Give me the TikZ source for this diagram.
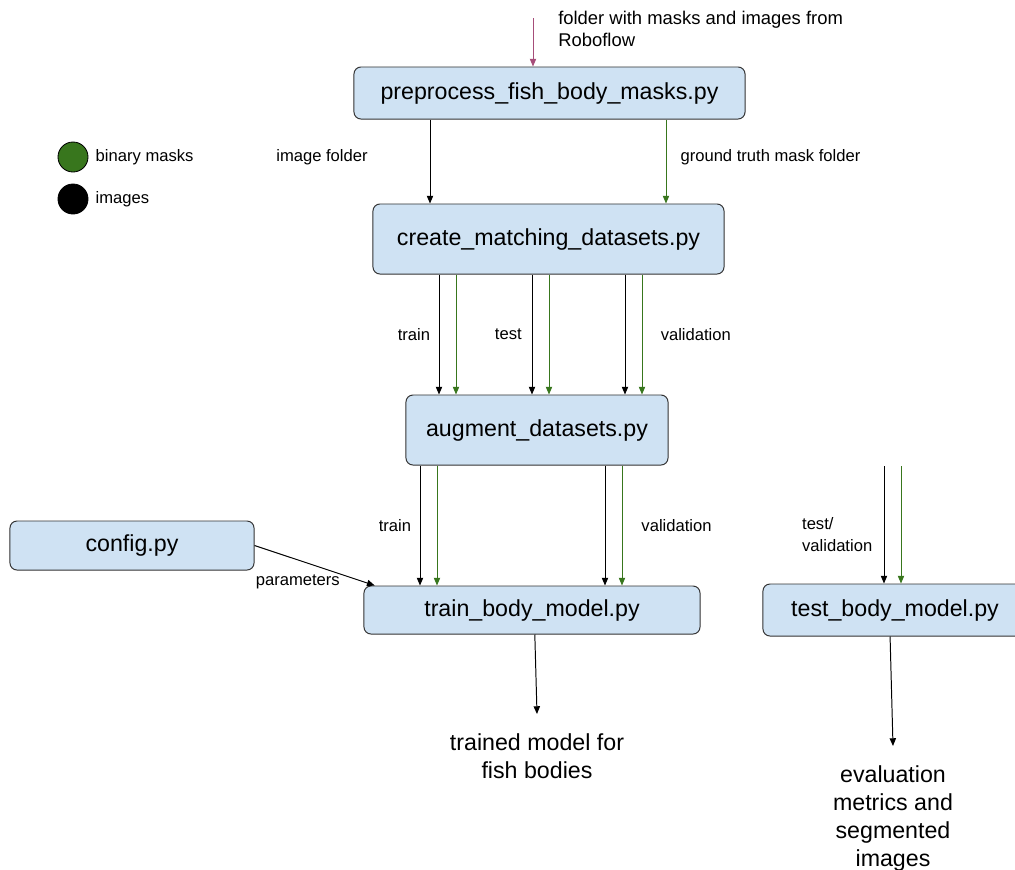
\documentclass[tikz,border=0pt]{standalone}
\usepackage{fontspec}
\setmainfont{Liberation Sans}
\usetikzlibrary{arrows.meta,positioning}
\definecolor{boxblue}{HTML}{CFE2F3}
\definecolor{maskgreen}{HTML}{38761D}
\definecolor{inpink}{HTML}{A64D79}
\tikzset{
  script/.style={draw=black!80, fill=boxblue, rounded corners=5pt, line width=0.7pt,
    inner sep=0pt, font=\fontsize{16.5}{20}\selectfont},
  lbl/.style={inner sep=0pt, text=black, font=\fontsize{11.8}{15.6}\selectfont},
  outtxt/.style={inner sep=0pt, outer sep=14pt, align=center, font=\fontsize{16.5}{19.9}\selectfont},
  dot/.style={circle, draw=black, line width=0.6pt, minimum size=0.75cm, inner sep=0pt},
  flow/.style={-{Triangle[length=5.5pt,width=4.5pt]}, line width=0.7pt},
}
\begin{document}
\begin{tikzpicture}[x=0.025cm, y=-0.025cm]
  \useasboundingbox (0,0) rectangle (1015,870);
  % legend
  \node (gdot) [dot, fill=maskgreen] at (73,157) {};
  \node (gtxt) [lbl, right=5pt of gdot] {binary masks};
  \node (bdot) [dot, fill=black] at (73,199) {};
  \node (btxt) [lbl, right=5pt of bdot] {images};
  % scripts
  \node (pre) [script, minimum width=9.775cm, minimum height=1.3cm] at (549.5,93) {preprocess\_fish\_body\_masks.py};
  \node (cmd) [script, minimum width=8.775cm, minimum height=1.75cm] at (548.5,239) {create\_matching\_datasets.py};
  \node (aug) [script, minimum width=6.55cm, minimum height=1.75cm] at (537,430) {augment\_datasets.py};
  \node (cfg) [script, minimum width=6.1cm, minimum height=1.225cm] at (132,545.5) {config.py};
  \node (trn) [script, minimum width=8.4cm, minimum height=1.2cm] at (532,610) {train\_body\_model.py};
  \node (tst) [script, minimum width=6.6cm, minimum height=1.3cm] at (895,610) {test\_body\_model.py};
  % results
  \node (mdl) [outtxt, anchor=north] at (537,714) {trained model for\\fish bodies};
  \node (evl) [outtxt, anchor=north] at (893,746) {evaluation\\metrics and\\segmented\\images};
  % columns of the arrows
  \foreach \x in {420,430,437,439,456,532,549,605,622,625,642,666}
    \coordinate (k\x) at (\x,0);
  \coordinate (rf) at (533,18);
  \coordinate (tvk) at (884,466);
  \coordinate (tvm) at (901,466);
  % input
  \node (rftxt) [lbl, align=left, anchor=north west, font=\fontsize{13.1}{15.6}\selectfont] at (558,11) {folder with masks and images from\\Roboflow};
  \draw [flow, inpink] (rf) -- (pre.north -| rf);
  % preprocess -> create
  \draw [flow] (pre.south -| k430) to node [lbl, pos=0.45, left=44pt] {image folder} (cmd.north -| k430);
  \draw [flow, maskgreen] (pre.south -| k666) to node [lbl, pos=0.45, right=10pt] {ground truth mask folder} (cmd.north -| k666);
  % create -> augment
  \draw [flow] (cmd.south -| k439) to node [lbl, left=6pt] {train} (aug.north -| k439);
  \draw [flow, maskgreen] (cmd.south -| k456) -- (aug.north -| k456);
  \draw [flow] (cmd.south -| k532) to node [lbl, left=7pt] {test} (aug.north -| k532);
  \draw [flow, maskgreen] (cmd.south -| k549) -- (aug.north -| k549);
  \draw [flow] (cmd.south -| k625) -- (aug.north -| k625);
  \draw [flow, maskgreen] (cmd.south -| k642) to node [lbl, right=13pt] {validation} (aug.north -| k642);
  % augment -> train
  \draw [flow] (aug.south -| k420) to node [lbl, left=6pt] {train} (trn.north -| k420);
  \draw [flow, maskgreen] (aug.south -| k437) -- (trn.north -| k437);
  \draw [flow] (aug.south -| k605) -- (trn.north -| k605);
  \draw [flow, maskgreen] (aug.south -| k622) to node [lbl, right=13.5pt] {validation} (trn.north -| k622);
  \draw [flow] (cfg.east) to node [lbl, pos=0.36, below=10pt] {parameters} ([xshift=8pt]trn.north west);
  % into test
  \draw [flow] (tvk) to node [lbl, align=left, pos=0.58, left=8pt] {test/\\validation} (tst.north -| tvk);
  \draw [flow, maskgreen] (tvm) -- (tst.north -| tvm);
  % outputs
  \draw [flow] ([xshift=2pt]trn.south) -- (mdl.north);
  \draw [flow] ([xshift=-3.5pt]tst.south) -- (evl.north);
\end{tikzpicture}
\end{document}
